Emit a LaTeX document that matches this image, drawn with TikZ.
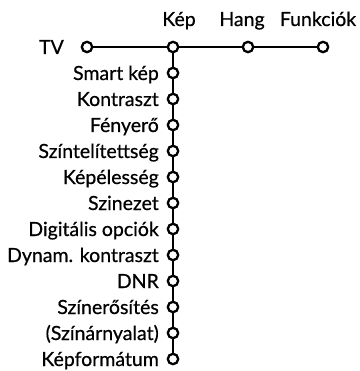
\documentclass[tikz,border=0pt]{standalone}
\usepackage{fontspec}
\setmainfont{Lato}[FakeBold=0.6]
\begin{document}
\begin{tikzpicture}[x=1pt,y=-1pt,
  conn/.style={line width=2.4pt},
  dot/.style={circle,draw,fill=white,inner sep=0pt,minimum size=10.4pt,line width=2.3pt},
  lab/.style={font=\fontsize{19.5}{22}\selectfont,inner sep=0pt,anchor=base east},
  head/.style={font=\fontsize{19.5}{22}\selectfont,inner sep=0pt,anchor=base}]
\useasboundingbox (0,0) rectangle (359,371);
\node[dot] (tv) at (87,47) {};
\node[dot] (kep) at (173,47) {};
\node[dot] (hang) at (248,47) {};
\node[dot] (funk) at (323,47) {};
\draw[conn] (tv) -- (kep) -- (hang) -- (funk);
\node[lab] (ltv) at (64,54) {TV};
\node[head] (lkep) at (179,26) {Kép};
\node[head] (lhang) at (242,26) {Hang};
\node[head] (lfunk) at (318,26) {Funkciók};
\foreach \t [count=\i] in {Smart kép,Kontraszt,Fényerő,Színtelítettség,Képélesség,Szinezet,Digitális opciók,Dynam. kontraszt,DNR,Színerősítés,(Színárnyalat),Képformátum}{
  \node[dot] (i\i) at (173,{47+26*\i}) {};
  \node[lab] (l\i) at (159,{54+26*\i}) {\t};
}
\draw[conn] (kep) -- (i1) -- (i2) -- (i3) -- (i4) -- (i5) -- (i6) -- (i7) -- (i8) -- (i9) -- (i10) -- (i11) -- (i12);
\end{tikzpicture}
\end{document}
